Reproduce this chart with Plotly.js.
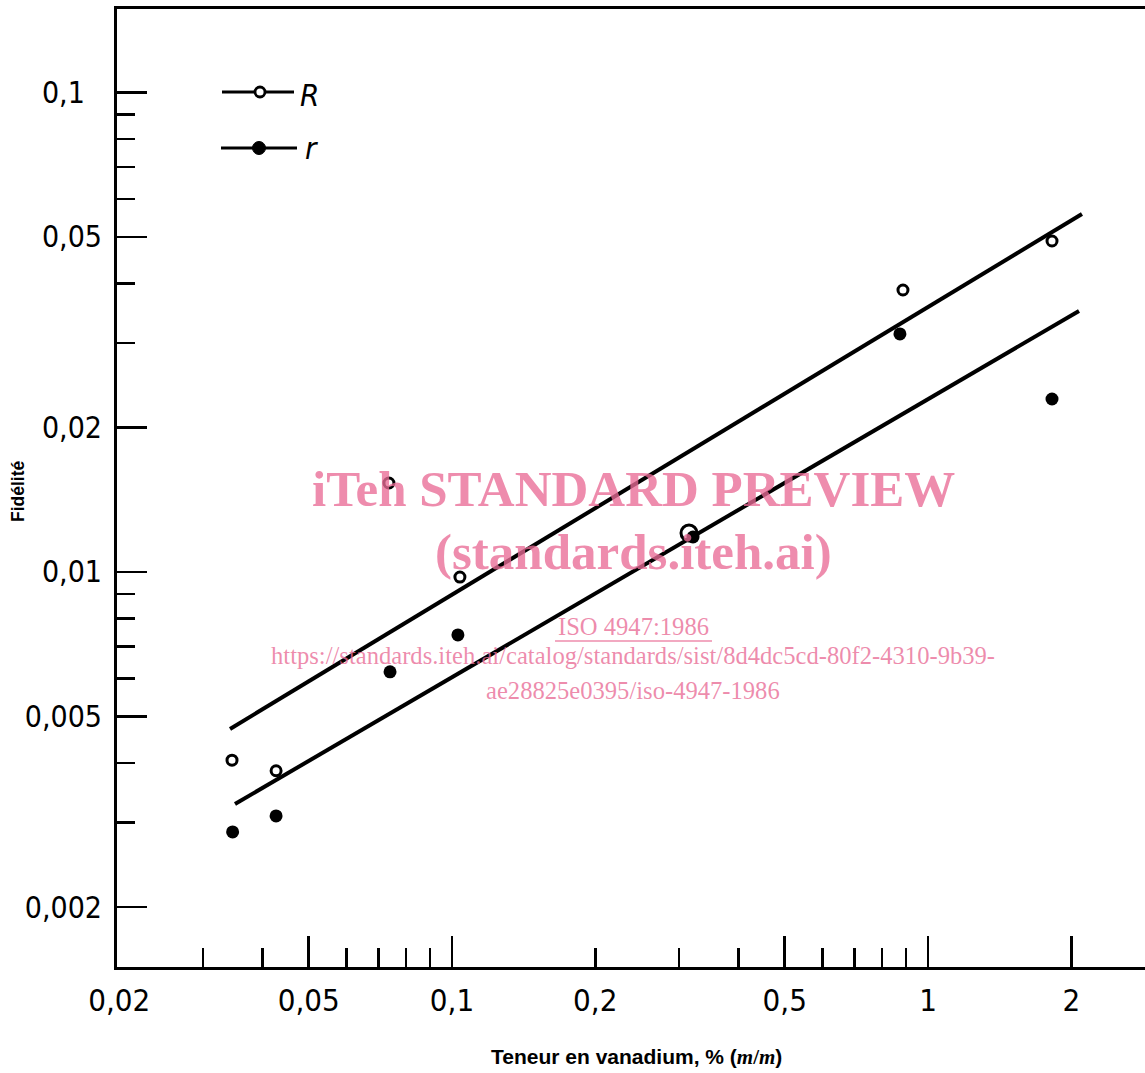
<!DOCTYPE html>
<html><head><meta charset="utf-8">
<script src="https://cdn.plot.ly/plotly-3.0.1.min.js"></script>
<style>body{margin:0;background:#fff}#chart{width:1145px;height:1073px}</style>
</head><body><div id="chart"></div>
<script>
// ---- data ----
const R_x = [0.0345, 0.0427, 0.0737, 0.1039, 0.3147, 0.886, 1.822];
const R_y = [0.00405, 0.00385, 0.01533, 0.00976, 0.01206, 0.03873, 0.04901];
const r_x = [0.0346, 0.0427, 0.0741, 0.1029, 0.3209, 0.873, 1.822];
const r_y = [0.00287, 0.00310, 0.00619, 0.00739, 0.01183, 0.03136, 0.02295];
const fitR_x = [0.03417, 2.106];
const fitR_y = [0.004706, 0.0558];
const fitr_x = [0.0350, 2.076];
const fitr_y = [0.003282, 0.03502];
const xTickVals = [0.02, 0.05, 0.1, 0.2, 0.5, 1, 2];
const xTickText = ['0,02', '0,05', '0,1', '0,2', '0,5', '1', '2'];
const xMajorTicks = [0.05, 0.1, 0.5, 1, 2];
const xMinorTicks = [0.03, 0.04, 0.06, 0.07, 0.08, 0.09, 0.2, 0.3, 0.4, 0.6, 0.7, 0.8, 0.9];
const yTickVals = [0.002, 0.005, 0.01, 0.02, 0.05, 0.1];
const yTickText = ['0,002', '0,005', '0,01', '0,02', '0,05', '0,1\u00a0\u00a0'];
const yMinorTicks = [0.003, 0.004, 0.006, 0.007, 0.008, 0.009, 0.03, 0.04, 0.06, 0.07, 0.08, 0.09];
const legendLabels = ['R', 'r'];
const yTitle = 'Fidélité';
const xTitle = 'Teneur en vanadium, % (<span style="font-family:Liberation Serif"><i>m</i>/<i>m</i></span>)';
const watermark = ['iTeh STANDARD PREVIEW', '(standards.iteh.ai)', 'ISO 4947:1986',
  'https://standards.iteh.ai/catalog/standards/sist/8d4dc5cd-80f2-4310-9b39-',
  'ae28825e0395/iso-4947-1986'];

// ---- layout geometry ----
const W = 1145, H = 1073, L = 117, T = 9, B = 106;
const PW = W - L, PH = H - T - B;
const px = x => (x - L) / PW;
const py = y => (H - B - y) / PH;
const xRange = [-1.7038, 0.4559];
const yRange = [-2.8238, -0.8259];
const ink = '#000';
const pink = 'rgba(233,108,150,0.78)';
const tickFam = 'DejaVu Sans Condensed, DejaVu Sans, sans-serif';

const Rsizes = R_x.map((v, i) => i === 4 ? 16 : 10);

const traces = [
  {x: fitR_x, y: fitR_y, mode: 'lines', line: {color: ink, width: 4}, hoverinfo: 'skip'},
  {x: fitr_x, y: fitr_y, mode: 'lines', line: {color: ink, width: 4}, hoverinfo: 'skip'},
  {x: r_x, y: r_y, mode: 'markers', name: 'r',
   marker: {symbol: 'circle', size: 13, color: ink, opacity: 1}},
  {x: R_x, y: R_y, mode: 'markers', name: 'R',
   marker: {symbol: 'circle-open', size: Rsizes, color: ink, opacity: 1, line: {width: 3, color: ink}}},
  {x: [], y: [], xaxis: 'x2', mode: 'markers', hoverinfo: 'skip'}
];

const shapes = [
  {type: 'line', xref: 'paper', yref: 'paper', x0: px(222), x1: px(294), y0: py(92), y1: py(92),
   line: {color: ink, width: 3}},
  {type: 'circle', xref: 'paper', yref: 'paper', x0: px(255), x1: px(265), y0: py(97), y1: py(87),
   fillcolor: '#fff', line: {color: ink, width: 2.8}},
  {type: 'line', xref: 'paper', yref: 'paper', x0: px(221), x1: px(297), y0: py(148), y1: py(148),
   line: {color: ink, width: 3}},
  {type: 'circle', xref: 'paper', yref: 'paper', x0: px(252.5), x1: px(265.5), y0: py(154.5), y1: py(141.5),
   fillcolor: ink, line: {color: ink, width: 1}},
  {type: 'line', xref: 'paper', yref: 'paper', x0: px(555), x1: px(712), y0: py(641), y1: py(641),
   line: {color: pink, width: 1.5}}
];

function ann(text, cx, cy, font, extra) {
  return Object.assign({text: text, xref: 'paper', yref: 'paper', x: px(cx), y: py(cy),
    showarrow: false, xanchor: 'center', yanchor: 'middle', font: font}, extra || {});
}
const serifB = {family: 'Liberation Serif, DejaVu Serif, serif', size: 51, color: pink, weight: 'bold'};
const serif = {family: 'Liberation Serif, DejaVu Serif, serif', size: 24.6, color: pink};

const annotations = [
  ann(legendLabels[0], 309, 95, {family: tickFam, size: 31, color: ink, style: 'italic'}),
  ann(legendLabels[1], 311, 148, {family: tickFam, size: 31, color: ink, style: 'italic'}),
  ann(yTitle, 18, 491, {family: 'Liberation Sans, Arial, sans-serif', size: 17.5, color: ink, weight: 'bold'}, {textangle: -90}),
  ann(xTitle, 636, 1057, {family: 'Liberation Sans, Arial, sans-serif', size: 21, color: ink, weight: 'bold'}),
  ann('<b>' + watermark[0] + '</b>', 633, 489, serifB),
  ann('<b>' + watermark[1] + '</b>', 633, 552, serifB),
  ann(watermark[2], 633, 626, serif),
  ann(watermark[3], 633, 656, serif),
  ann(watermark[4], 633, 690, serif)
];

const layout = {
  width: W, height: H,
  margin: {l: L, r: 0, t: T, b: B, pad: 0},
  paper_bgcolor: '#fff', plot_bgcolor: '#fff',
  showlegend: false,
  xaxis: {
    type: 'log', range: xRange, tickmode: 'array', tickvals: xTickVals, ticktext: xTickText,
    ticks: '', showline: true, linewidth: 3, linecolor: ink, mirror: true,
    showgrid: false, zeroline: false, ticklabelstandoff: 4,
    tickfont: {family: tickFam, size: 31, color: ink},
    minor: {tickmode: 'array', tickvals: xMinorTicks, ticks: 'inside', ticklen: 19,
            tickwidth: 2.5, tickcolor: ink, showgrid: false}
  },
  xaxis2: {
    type: 'log', range: xRange, overlaying: 'x', anchor: 'y', side: 'bottom',
    tickmode: 'array', tickvals: xMajorTicks, ticks: 'inside', ticklen: 31,
    tickwidth: 2.5, tickcolor: ink, showticklabels: false, showline: false,
    showgrid: false, zeroline: false
  },
  yaxis: {
    type: 'log', range: yRange, tickmode: 'array', tickvals: yTickVals, ticktext: yTickText,
    ticks: 'inside', ticklen: 30, tickwidth: 2.5, tickcolor: ink,
    showline: true, linewidth: 3, linecolor: ink, mirror: false,
    showgrid: false, zeroline: false, ticklabelstandoff: 6,
    tickfont: {family: tickFam, size: 30, color: ink},
    minor: {tickmode: 'array', tickvals: yMinorTicks, ticks: 'inside', ticklen: 18,
            tickwidth: 2.5, tickcolor: ink, showgrid: false}
  },
  shapes: shapes,
  annotations: annotations
};

Plotly.newPlot('chart', traces, layout, {displayModeBar: false, staticPlot: true});
</script>
</body></html>
